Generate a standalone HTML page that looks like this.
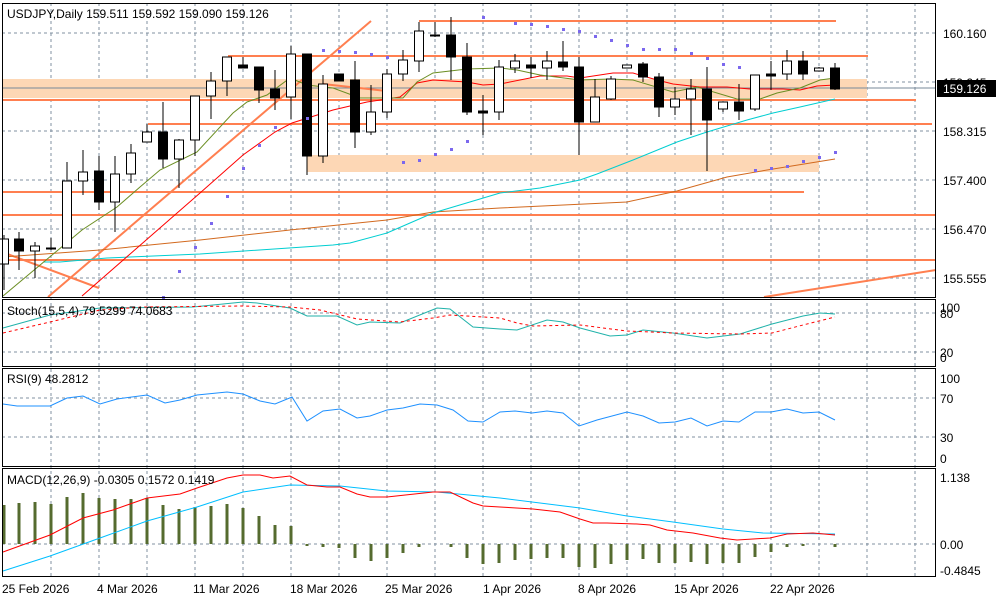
<!DOCTYPE html>
<html><head><meta charset="utf-8"><style>
html,body{margin:0;padding:0;background:#fff;}
svg{display:block;font-family:"Liberation Sans",sans-serif;font-size:12px;}
</style></head><body>
<svg width="1000" height="600" viewBox="0 0 1000 600" xmlns="http://www.w3.org/2000/svg">
<rect width="1000" height="600" fill="#fff"/>
<!-- grid -->
<g stroke="#8090a0" stroke-width="1" stroke-dasharray="3,3" fill="none">
<path d="M51 3V576M99 3V576M147 3V576M195 3V576M243 3V576M291 3V576M339 3V576M387 3V576M435 3V576M483 3V576M531 3V576M579 3V576M627 3V576M675 3V576M723 3V576M771 3V576M819 3V576M867 3V576M915 3V576"/>
<path d="M2 33H936M2 82H936M2 131H936M2 180H936M2 229H936M2 278H936"/>
<path d="M2 313H936M2 352H936M2 398H936M2 437H936M2 544H936"/>
</g>
<!-- zones -->
<rect x="2" y="79" width="865" height="19" fill="#fdd7b5"/>
<rect x="307" y="155" width="512" height="17" fill="#fdd7b5"/>
<line x1="2" y1="88" x2="936" y2="88" stroke="#778899" stroke-width="1"/>
<!-- orange lines -->
<g stroke="#ff7f50" stroke-width="2" fill="none">
<path d="M419 21H836M228 56H868M2 100H916M148 124H932M2 192H804M2 215H936M2 260H936"/>
<path d="M48 297L371 21M2 252L99 288M323 84L387 91M764 297L936 270"/>
</g>
<!-- MAs -->
<g fill="none" stroke-width="1">
<polyline stroke="#d2691e" points="3,257 100,250 200,240 290,230 387,220 433,212 500,208 627,202 677,191 727,177 767,170 835,159"/>
<polyline stroke="#00ced1" points="43,262 60,262 107,258 200,254 333,245 350,243 387,233 433,213 500,193 540,188 580,180 597,174 633,160 677,142 707,132 747,120 773,113 800,107 835,99"/>
<polyline stroke="#ff0000" points="82,296 200,193 243,155 275,132 292,123 333,110 367,102 400,97 417,83 433,80 467,82 483,85 500,84 540,76 567,76 580,78 613,73 633,73 657,80 673,84 700,87 727,87 750,89 783,89 800,90 817,86 835,85"/>
<polyline stroke="#6b8e23" points="3,296 82,230 117,207 140,187 160,170 197,152 233,113 247,102 267,95 290,78 307,85 333,88 360,98 383,98 403,98 417,82 433,73 467,69 500,68 517,70 540,75 580,80 610,79 633,80 673,92 697,87 737,99 760,99 777,93 800,88 820,80 835,78"/>
</g>
<!-- candles -->
<g stroke="#000" stroke-width="1">
<line x1="4" y1="235" x2="4" y2="290"/><rect x="-0.5" y="239" width="9" height="25" fill="#fff"/>
<line x1="19" y1="232" x2="19" y2="270"/><rect x="14.5" y="239" width="9" height="12" fill="#000"/>
<line x1="35" y1="242" x2="35" y2="278"/><rect x="30.5" y="246" width="9" height="5" fill="#fff"/>
<line x1="51" y1="238" x2="51" y2="250"/><rect x="46.5" y="248" width="9" height="1" fill="#000"/>
<line x1="67" y1="162" x2="67" y2="248"/><rect x="62.5" y="181" width="9" height="67" fill="#fff"/>
<line x1="83" y1="150" x2="83" y2="195"/><rect x="78.5" y="172" width="9" height="9" fill="#fff"/>
<line x1="99" y1="156" x2="99" y2="210"/><rect x="94.5" y="171" width="9" height="31" fill="#000"/>
<line x1="115" y1="156" x2="115" y2="232"/><rect x="110.5" y="174" width="9" height="28" fill="#fff"/>
<line x1="131" y1="144" x2="131" y2="183"/><rect x="126.5" y="153" width="9" height="21" fill="#fff"/>
<line x1="147" y1="124" x2="147" y2="142"/><rect x="142.5" y="132" width="9" height="10" fill="#fff"/>
<line x1="163" y1="102" x2="163" y2="168"/><rect x="158.5" y="132" width="9" height="27" fill="#000"/>
<line x1="179" y1="139" x2="179" y2="188"/><rect x="174.5" y="140" width="9" height="19" fill="#fff"/>
<line x1="195" y1="96" x2="195" y2="156"/><rect x="190.5" y="96" width="9" height="44" fill="#fff"/>
<line x1="211" y1="72" x2="211" y2="119"/><rect x="206.5" y="81" width="9" height="15" fill="#fff"/>
<line x1="227" y1="57" x2="227" y2="96"/><rect x="222.5" y="57" width="9" height="24" fill="#fff"/>
<line x1="243" y1="57" x2="243" y2="68"/><rect x="238.5" y="65" width="9" height="3" fill="#000"/>
<line x1="259" y1="67" x2="259" y2="103"/><rect x="254.5" y="67" width="9" height="23" fill="#000"/>
<line x1="275" y1="70" x2="275" y2="110"/><rect x="270.5" y="89" width="9" height="9" fill="#000"/>
<line x1="291" y1="46" x2="291" y2="119"/><rect x="286.5" y="54" width="9" height="43" fill="#fff"/>
<line x1="307" y1="54" x2="307" y2="175"/><rect x="302.5" y="54" width="9" height="102" fill="#000"/>
<line x1="323" y1="75" x2="323" y2="163"/><rect x="318.5" y="84" width="9" height="72" fill="#fff"/>
<line x1="339" y1="74" x2="339" y2="81"/><rect x="334.5" y="74" width="9" height="7" fill="#000"/>
<line x1="355" y1="61" x2="355" y2="148"/><rect x="350.5" y="80" width="9" height="52" fill="#000"/>
<line x1="371" y1="85" x2="371" y2="135"/><rect x="366.5" y="112" width="9" height="20" fill="#fff"/>
<line x1="387" y1="69" x2="387" y2="118"/><rect x="382.5" y="74" width="9" height="38" fill="#fff"/>
<line x1="403" y1="50" x2="403" y2="81"/><rect x="398.5" y="60" width="9" height="14" fill="#fff"/>
<line x1="419" y1="22" x2="419" y2="72"/><rect x="414.5" y="31" width="9" height="30" fill="#fff"/>
<line x1="435" y1="22" x2="435" y2="37"/><rect x="430.5" y="35" width="9" height="1" fill="#000"/>
<line x1="451" y1="17" x2="451" y2="80"/><rect x="446.5" y="35" width="9" height="22" fill="#000"/>
<line x1="467" y1="43" x2="467" y2="115"/><rect x="462.5" y="57" width="9" height="55" fill="#000"/>
<line x1="483" y1="95" x2="483" y2="135"/><rect x="478.5" y="111" width="9" height="2" fill="#000"/>
<line x1="499" y1="60" x2="499" y2="120"/><rect x="494.5" y="67" width="9" height="45" fill="#fff"/>
<line x1="515" y1="54" x2="515" y2="73"/><rect x="510.5" y="61" width="9" height="7" fill="#fff"/>
<line x1="531" y1="57" x2="531" y2="78"/><rect x="526.5" y="65" width="9" height="3" fill="#000"/>
<line x1="547" y1="51" x2="547" y2="80"/><rect x="542.5" y="61" width="9" height="7" fill="#fff"/>
<line x1="563" y1="41" x2="563" y2="71"/><rect x="558.5" y="62" width="9" height="5" fill="#000"/>
<line x1="579" y1="57" x2="579" y2="155"/><rect x="574.5" y="67" width="9" height="55" fill="#000"/>
<line x1="595" y1="79" x2="595" y2="122"/><rect x="590.5" y="97" width="9" height="25" fill="#fff"/>
<line x1="611" y1="76" x2="611" y2="100"/><rect x="606.5" y="79" width="9" height="20" fill="#fff"/>
<line x1="627" y1="65" x2="627" y2="68"/><rect x="622.5" y="65" width="9" height="3" fill="#fff"/>
<line x1="643" y1="62" x2="643" y2="82"/><rect x="638.5" y="64" width="9" height="13" fill="#000"/>
<line x1="659" y1="73" x2="659" y2="117"/><rect x="654.5" y="77" width="9" height="30" fill="#000"/>
<line x1="675" y1="87" x2="675" y2="115"/><rect x="670.5" y="99" width="9" height="8" fill="#fff"/>
<line x1="691" y1="79" x2="691" y2="135"/><rect x="686.5" y="89" width="9" height="10" fill="#fff"/>
<line x1="707" y1="67" x2="707" y2="171"/><rect x="702.5" y="89" width="9" height="31" fill="#000"/>
<line x1="723" y1="102" x2="723" y2="112"/><rect x="718.5" y="102" width="9" height="7" fill="#fff"/>
<line x1="739" y1="84" x2="739" y2="120"/><rect x="734.5" y="102" width="9" height="9" fill="#000"/>
<line x1="755" y1="75" x2="755" y2="111"/><rect x="750.5" y="75" width="9" height="34" fill="#fff"/>
<line x1="771" y1="61" x2="771" y2="90"/><rect x="766.5" y="74" width="9" height="2" fill="#000"/>
<line x1="787" y1="50" x2="787" y2="80"/><rect x="782.5" y="61" width="9" height="13" fill="#fff"/>
<line x1="803" y1="51" x2="803" y2="80"/><rect x="798.5" y="61" width="9" height="13" fill="#000"/>
<line x1="819" y1="67" x2="819" y2="71"/><rect x="814.5" y="68" width="9" height="3" fill="#fff"/>
<line x1="835" y1="63" x2="835" y2="90"/><rect x="830.5" y="68" width="9" height="21" fill="#000"/>
</g>
<!-- SAR -->
<g fill="#7b68ee">
<rect x="162" y="296" width="3" height="3"/><rect x="178" y="270" width="3" height="3"/><rect x="194" y="246" width="3" height="3"/><rect x="210" y="222" width="3" height="3"/><rect x="226" y="195" width="3" height="3"/><rect x="242" y="167" width="3" height="3"/><rect x="258" y="144" width="3" height="3"/><rect x="274" y="126" width="3" height="3"/><rect x="306" y="117" width="3" height="3"/><rect x="322" y="49" width="3" height="3"/><rect x="338" y="50" width="3" height="3"/><rect x="354" y="51" width="3" height="3"/><rect x="370" y="53" width="3" height="3"/><rect x="386" y="56" width="3" height="3"/><rect x="402" y="161" width="3" height="3"/><rect x="418" y="159" width="3" height="3"/><rect x="434" y="153" width="3" height="3"/><rect x="450" y="148" width="3" height="3"/><rect x="466" y="140" width="3" height="3"/><rect x="482" y="16" width="3" height="3"/><rect x="514" y="22" width="3" height="3"/><rect x="530" y="23" width="3" height="3"/><rect x="546" y="25" width="3" height="3"/><rect x="562" y="28" width="3" height="3"/><rect x="578" y="30" width="3" height="3"/><rect x="594" y="35" width="3" height="3"/><rect x="610" y="39" width="3" height="3"/><rect x="626" y="44" width="3" height="3"/><rect x="642" y="48" width="3" height="3"/><rect x="658" y="48" width="3" height="3"/><rect x="674" y="48" width="3" height="3"/><rect x="690" y="52" width="3" height="3"/><rect x="706" y="57" width="3" height="3"/><rect x="722" y="63" width="3" height="3"/><rect x="738" y="66" width="3" height="3"/><rect x="754" y="169" width="3" height="3"/><rect x="770" y="167" width="3" height="3"/><rect x="786" y="165" width="3" height="3"/><rect x="802" y="160" width="3" height="3"/><rect x="818" y="156" width="3" height="3"/><rect x="834" y="151" width="3" height="3"/>
</g>
<!-- Stoch -->
<polyline fill="none" stroke="#20b2aa" points="3,328 50,315 100,308 193,307 243,302 257,303 290,308 307,316 337,316 357,325 370,322 400,323 437,308 450,309 473,327 500,329 517,330 547,320 563,322 580,328 610,336 627,335 643,330 673,333 707,338 740,334 772,324 803,316 820,313 835,314"/>
<polyline fill="none" stroke="#ff0000" stroke-dasharray="3,3" points="3,333 50,322 100,310 143,307 243,306 290,307 320,310 357,319 400,322 433,318 450,315 500,318 517,323 533,326 580,325 627,331 673,333 740,334 772,333 803,325 835,317"/>
<!-- RSI -->
<polyline fill="none" stroke="#1e90ff" points="3,404 17,406 50,406 67,398 83,396 100,404 117,399 147,395 165,403 180,400 197,395 227,392 243,394 260,401 275,404 292,397 307,421 323,411 340,409 357,418 370,416 387,410 403,408 420,404 437,405 453,410 468,421 483,422 500,412 515,411 532,413 547,411 563,413 579,426 597,420 627,412 643,416 659,423 675,422 691,418 707,426 723,421 739,422 755,412 771,412 787,409 803,413 819,412 835,420"/>
<!-- MACD hist -->
<g stroke="#556b2f" stroke-width="3">
<path d="M4 544V505M19 544V503M35 544V502M51 544V504M67 544V497M83 544V493M99 544V498M115 544V499M131 544V499M147 544V498M163 544V505M179 544V509M195 544V507M211 544V506M227 544V504M243 544V508M259 544V516M275 544V525M291 544V526M307 544V546M323 544V547M339 544V548M355 544V558M371 544V561M387 544V558M403 544V553M419 544V547M451 544V547M467 544V558M483 544V564M499 544V563M515 544V560M531 544V559M547 544V558M563 544V558M579 544V567M595 544V568M611 544V564M627 544V560M643 544V559M659 544V563M675 544V563M691 544V562M707 544V564M723 544V563M739 544V563M755 544V557M771 544V552M787 544V547M803 544V546M835 544V547"/>
</g>
<polyline fill="none" stroke="#00bfff" points="3,571 50,556 100,538 147,521 197,507 243,492 290,485 340,486 387,491 437,492 500,498 580,508 627,516 673,522 723,529 763,533 835,534"/>
<polyline fill="none" stroke="#ff0000" points="3,552 50,535 83,518 113,510 147,498 180,494 197,488 227,478 243,475 260,475 273,478 290,476 307,485 327,487 340,487 357,494 370,497 387,497 433,492 450,492 473,503 483,506 500,507 533,509 560,512 580,519 593,523 607,523 637,524 650,525 667,530 693,533 720,538 737,540 753,539 770,538 787,534 813,533 835,535"/>
<!-- frames -->
<g fill="none" stroke="#000" stroke-width="1">
<rect x="2.5" y="3.5" width="933" height="294"/>
<rect x="2.5" y="299.5" width="933" height="67"/>
<rect x="2.5" y="368.5" width="933" height="98"/>
<rect x="2.5" y="468.5" width="933" height="108"/>
</g>
<!-- labels -->
<g fill="#000">
<text x="7" y="18">USDJPY,Daily  159.511 159.592 159.090 159.126</text>
<text x="7" y="315">Stoch(15,5,4) 79.5299 74.0683</text>
<text x="7" y="383">RSI(9) 48.2812</text>
<text x="7" y="484">MACD(12,26,9) -0.0305 0.1572 0.1419</text>
<text x="943" y="38">160.160</text>
<text x="943" y="87">159.245</text>
<text x="943" y="136">158.315</text>
<text x="943" y="185">157.400</text>
<text x="943" y="234">156.470</text>
<text x="943" y="283">155.555</text>
<text x="940" y="312">100</text><text x="940" y="318">80</text>
<text x="940" y="357">20</text><text x="940" y="362">0</text>
<text x="940" y="383">100</text><text x="940" y="403">70</text><text x="940" y="442">30</text><text x="940" y="463">0</text>
<text x="940" y="482">1.138</text><text x="940" y="549">0.00</text><text x="940" y="575">-0.4845</text>
<text x="2" y="593">25 Feb 2026</text>
<text x="97" y="593">4 Mar 2026</text>
<text x="193" y="593">11 Mar 2026</text>
<text x="290" y="593">18 Mar 2026</text>
<text x="385" y="593">25 Mar 2026</text>
<text x="483" y="593">1 Apr 2026</text>
<text x="578" y="593">8 Apr 2026</text>
<text x="674" y="593">15 Apr 2026</text>
<text x="770" y="593">22 Apr 2026</text>
</g>
<rect x="937" y="80" width="59" height="17" fill="#000"/>
<text x="943" y="93" fill="#fff">159.126</text>
</svg>
</body></html>
